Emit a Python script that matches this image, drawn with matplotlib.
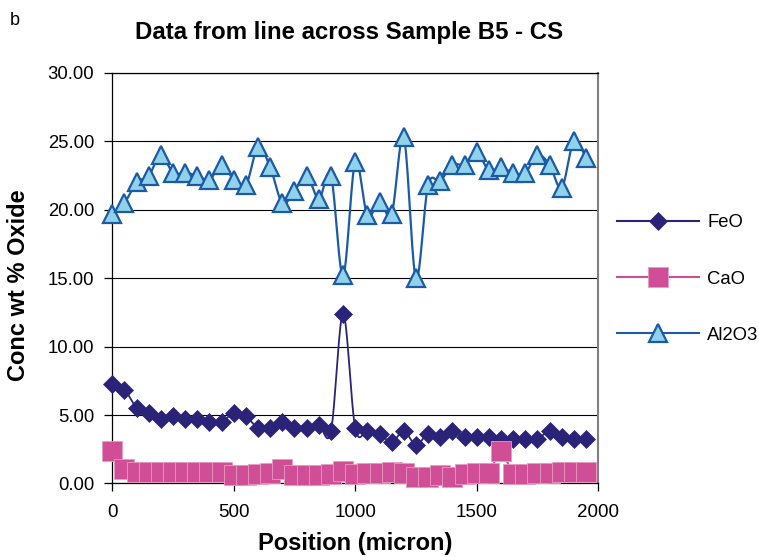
import numpy as np
import matplotlib
matplotlib.use("Agg")
import matplotlib.pyplot as plt
from matplotlib.lines import Line2D

plt.rcParams["font.family"] = ["Liberation Sans", "DejaVu Sans"]

# Position along the line scan (micron)
position = [0, 50, 100, 150, 200, 250, 300, 350, 400, 450,
            500, 550, 600, 650, 700, 750, 800, 850, 900, 950,
            1000, 1050, 1100, 1150, 1200, 1250, 1300, 1350, 1400, 1450,
            1500, 1550, 1600, 1650, 1700, 1750, 1800, 1850, 1900, 1950]

# Oxide concentrations (wt %)
feo = [7.25, 6.85, 5.55, 5.15, 4.7, 4.9, 4.7, 4.7, 4.5, 4.5,
       5.15, 4.9, 4.05, 4.05, 4.5, 4.05, 4.05, 4.3, 3.8, 12.4,
       4.05, 3.85, 3.65, 3.0, 3.85, 2.8, 3.65, 3.4, 3.85, 3.4,
       3.4, 3.4, 3.25, 3.25, 3.25, 3.25, 3.85, 3.4, 3.25, 3.25]
cao = [2.35, 1.05, 0.85, 0.85, 0.85, 0.85, 0.85, 0.85, 0.85, 0.85,
       0.65, 0.65, 0.7, 0.75, 1.05, 0.65, 0.65, 0.65, 0.7, 0.9,
       0.7, 0.75, 0.8, 0.85, 0.75, 0.45, 0.45, 0.6, 0.5, 0.7,
       0.75, 0.75, 2.35, 0.7, 0.7, 0.75, 0.75, 0.85, 0.85, 0.85]
al2o3 = [19.7, 20.5, 22.0, 22.5, 24.0, 22.7, 22.7, 22.5, 22.2, 23.3,
         22.2, 21.8, 24.6, 23.1, 20.5, 21.4, 22.5, 20.8, 22.5, 15.2,
         23.5, 19.6, 20.6, 19.7, 25.3, 15.0, 21.8, 22.1, 23.3, 23.3,
         24.2, 22.9, 23.1, 22.7, 22.7, 24.0, 23.3, 21.6, 25.0, 23.8]

series_names = ["FeO", "CaO", "Al2O3"]
x_ticks = [0, 500, 1000, 1500, 2000]
y_ticks = [0, 5, 10, 15, 20, 25, 30]


def smooth(xs, ys, steps=30):
    """Piecewise cubic Bezier through the points (spreadsheet-style smoothing)."""
    x = np.asarray(xs, float)
    y = np.asarray(ys, float)
    px = np.concatenate([[x[0]], x, [x[-1]]])
    py = np.concatenate([[y[0]], y, [y[-1]]])
    t = np.linspace(0.0, 1.0, steps)[:, None]
    out = []
    for i in range(len(x) - 1):
        p0 = np.array([px[i], py[i]])
        p1 = np.array([px[i + 1], py[i + 1]])
        p2 = np.array([px[i + 2], py[i + 2]])
        p3 = np.array([px[i + 3], py[i + 3]])
        c1 = p1 + (p2 - p0) / 6.0
        c2 = p2 - (p3 - p1) / 6.0
        seg = ((1 - t) ** 3) * p1 + 3 * ((1 - t) ** 2) * t * c1 \
            + 3 * (1 - t) * t ** 2 * c2 + t ** 3 * p2
        out.append(seg if i == 0 else seg[1:])
    pts = np.vstack(out)
    return pts[:, 0], pts[:, 1]


fig = plt.figure(figsize=(7.59, 5.57), dpi=100)
ax = fig.add_axes([0.148, 0.132, 0.640, 0.737])

styles = [
    dict(color="#2B2377", marker="D", ms=9.2, mfc="#2B2377", mec="#2B2377", mew=0.5, lw=1.3),
    dict(color="#D04E96", marker="s", ms=13.8, mfc="#D04E96", mec="#E79BC3", mew=0.6, lw=1.5),
    dict(color="#1B5AA6", marker="^", ms=12.8, mfc="#8FD2EA", mec="#1B5AA6", mew=1.6, lw=1.6),
]

for k, (vals, st) in enumerate(zip([feo, cao, al2o3], styles)):
    sx, sy = smooth(position, vals)
    ax.plot(sx, sy, color=st["color"], lw=st["lw"], zorder=3 + 2 * k,
            solid_capstyle="round")
    ax.plot(position, vals, ls="none", marker=st["marker"], ms=st["ms"],
            mfc=st["mfc"], mec=st["mec"], mew=st["mew"], zorder=4 + 2 * k,
            clip_on=False)

ax.set_xlim(0, 2000)
ax.set_ylim(0, 30)
ax.set_xticks(x_ticks)
ax.set_yticks(y_ticks)
ax.set_yticklabels([f"{v:.2f}" for v in y_ticks])
ax.yaxis.grid(True, color="#000000", lw=0.8)
ax.set_axisbelow(True)

ax.tick_params(axis="x", direction="out", length=6, width=0.9, pad=9,
               labelsize=13.5, colors="black")
ax.tick_params(axis="y", direction="out", length=6, width=0.9, pad=7,
               labelsize=13.3, colors="black")
for side in ["left", "bottom", "top"]:
    ax.spines[side].set_color("black")
    ax.spines[side].set_linewidth(0.9)
ax.spines["right"].set_color("#808080")
ax.spines["right"].set_linewidth(1.5)

handles = [Line2D([0], [0], color=st["color"], lw=1.5, marker=st["marker"],
                  ms=st["ms"], mfc=st["mfc"], mec=st["mec"], mew=st["mew"])
           for st in styles]
fig.legend(handles, series_names, loc="center left",
           bbox_to_anchor=(0.813, 0.499), bbox_transform=fig.transFigure,
           frameon=False, fontsize=13.3, handlelength=4.45, handletextpad=0.42,
           labelspacing=2.12, borderpad=0, borderaxespad=0, numpoints=1)

fig.text(0.46, 0.930, "Data from line across Sample B5 - CS", ha="center",
         va="baseline", fontsize=17.3, fontweight="bold")
fig.text(0.013, 0.955, "b", ha="left", va="baseline", fontsize=13)
fig.text(0.0245, 0.488, "Conc wt % Oxide", rotation=90, ha="center",
         va="center", fontsize=17, fontweight="bold")
fig.text(355 / 759, 0.0126, "Position (micron)", ha="center",
         va="baseline", fontsize=17, fontweight="bold")

fig.savefig("out.png", dpi=100)
